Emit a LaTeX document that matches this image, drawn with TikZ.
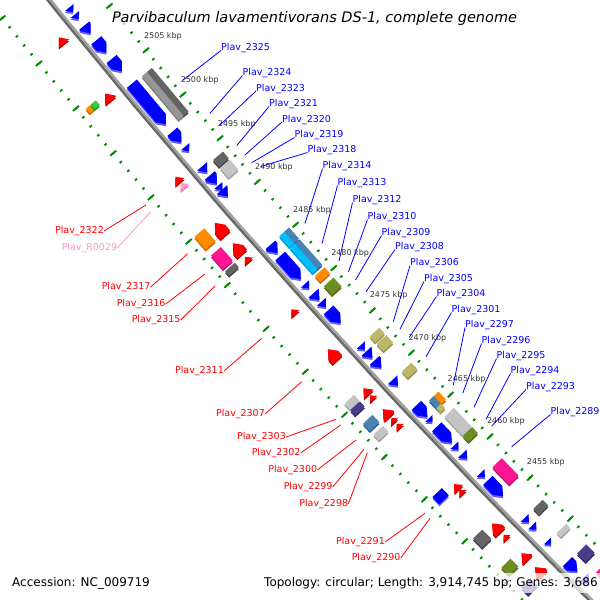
\documentclass[tikz,border=0pt]{standalone}
\usepackage{fontspec}
\setmainfont{DejaVu Sans}

\definecolor{cdsrev}{RGB}{0,0,255}
\definecolor{cdsrevS}{RGB}{95,95,255}
\definecolor{cdsfwd}{RGB}{255,0,0}
\definecolor{cdsfwdS}{RGB}{185,0,0}
\definecolor{trna}{RGB}{255,160,205}
\definecolor{trnaS}{RGB}{230,120,175}
\definecolor{cogdark}{RGB}{100,100,100}
\definecolor{cogdarkS}{RGB}{70,70,70}
\definecolor{cogmid}{RGB}{150,150,150}
\definecolor{cogmidS}{RGB}{120,120,120}
\definecolor{coglight}{RGB}{196,196,196}
\definecolor{coglightS}{RGB}{160,160,160}
\definecolor{cogsteel}{RGB}{70,130,180}
\definecolor{cogsteelS}{RGB}{50,95,135}
\definecolor{cogsky}{RGB}{0,191,255}
\definecolor{cogskyS}{RGB}{0,150,210}
\definecolor{cogorange}{RGB}{255,140,0}
\definecolor{cogorangeS}{RGB}{205,105,0}
\definecolor{cogpink}{RGB}{255,20,147}
\definecolor{cogpinkS}{RGB}{190,15,110}
\definecolor{cogolive}{RGB}{107,142,35}
\definecolor{cogoliveS}{RGB}{80,105,25}
\definecolor{cogkhaki}{RGB}{189,183,107}
\definecolor{cogkhakiS}{RGB}{150,145,80}
\definecolor{cogslate}{RGB}{72,61,139}
\definecolor{cogslateS}{RGB}{50,42,100}
\definecolor{coglime}{RGB}{50,205,50}
\definecolor{coglimeS}{RGB}{30,150,30}
\definecolor{tickgreen}{RGB}{0,140,0}
\definecolor{bbdark}{RGB}{105,105,105}
\definecolor{bblight}{RGB}{160,160,160}
\definecolor{labpink}{RGB}{255,150,200}

\tikzset{
  pics/rev/.style 2 args={code={
    \pgfmathsetmacro{\glen}{#1/2}\pgfmathsetmacro{\ghead}{min(#1,8)}\pgfmathsetmacro{\gwid}{min(6.5,2.5+#1/2)}
    \fill[#2S,shift={(1.5,-1.3)}] (-\glen,-\gwid) -- ({\glen-\ghead},-\gwid) -- (\glen,0) -- ({\glen-\ghead},\gwid) -- (-\glen,\gwid) -- cycle;
    \fill[#2] (-\glen,-\gwid) -- ({\glen-\ghead},-\gwid) -- (\glen,0) -- ({\glen-\ghead},\gwid) -- (-\glen,\gwid) -- cycle;
  }},
  pics/fwd/.style 2 args={code={
    \pgfmathsetmacro{\glen}{#1/2}\pgfmathsetmacro{\ghead}{min(#1,8)}\pgfmathsetmacro{\gwid}{min(6.5,2.5+#1/2)}
    \fill[#2S,shift={(1.5,-1.3)}] (\glen,-\gwid) -- ({\ghead-\glen},-\gwid) -- (-\glen,0) -- ({\ghead-\glen},\gwid) -- (\glen,\gwid) -- cycle;
    \fill[#2] (\glen,-\gwid) -- ({\ghead-\glen},-\gwid) -- (-\glen,0) -- ({\ghead-\glen},\gwid) -- (\glen,\gwid) -- cycle;
  }},
  pics/box/.style 2 args={code={
    \pgfmathsetmacro{\glen}{#1/2}
    \fill[#2S,shift={(1.5,-1.3)}] (-\glen,-6.5) rectangle (\glen,6.5);
    \fill[#2] (-\glen,-6.5) rectangle (\glen,6.5);
  }},
  pics/inbox/.style 2 args={code={
    \pgfmathsetmacro{\glen}{#1/2}
    \fill[#2S,shift={(1.5,-1.3)}] (-\glen,0) rectangle (\glen,6.5);
    \fill[#2] (-\glen,0) rectangle (\glen,6.5);
  }},
  pics/outbox/.style 2 args={code={
    \pgfmathsetmacro{\glen}{#1/2}
    \fill[#2S,shift={(1.5,-1.3)}] (-\glen,-6.5) rectangle (\glen,0);
    \fill[#2] (-\glen,-6.5) rectangle (\glen,0);
  }}
}

% x, y (picture px), track offset from backbone, length, kind, colour
\newcommand{\feat}[6]{%
  \pgfmathsetmacro{\ga}{atan2(-#2-4518.5,#1-5661)}%
  \pgfmathsetmacro{\gr}{7205+#3}%
  \edef\gcall{\noexpand\pic{#5={#4}{#6}};}%
  \begin{scope}[shift={(5661,4518.5)},shift={(\ga:\gr)},rotate=\ga+90,transform shape]
    \gcall
  \end{scope}}

\begin{document}
\begin{tikzpicture}[x=1pt,y=1pt,
  bluelab/.style={anchor=base west,inner sep=0pt,text=blue,font=\fontsize{9.5}{11}\selectfont},
  redlab/.style={anchor=base east,inner sep=0pt,text=red,font=\fontsize{9.5}{11}\selectfont},
  blueline/.style={blue,line width=0.8pt},
  redline/.style={red,line width=0.8pt},
  kbp/.style={text=black!80,inner sep=0pt,font=\fontsize{8}{9.6}\selectfont},
  tickdot/.style={tickgreen,line width=1.9pt},
  caption/.style={fill=white,fill opacity=0.72,text opacity=1,inner sep=4pt,font=\fontsize{12}{14}\selectfont}]
\useasboundingbox (0,0) rectangle (600,-600);
\begin{scope}
\clip (0,0) rectangle (600,-600);

% ruler ticks either side of the backbone, backbone, kbp marks
\begin{scope}[shift={(5661,4518.5)}]
  \foreach \k in {2445,...,2520}{
    \pgfmathsetmacro{\ta}{-138.0613-(\k-2480)*0.09196}
    \draw[tickdot] (\ta:7160.6) -- (\ta:7163.4);
    \draw[tickdot] (\ta:7251.6) -- (\ta:7254.4);
  }
  \foreach \k in {2445,2450,...,2520}{
    \pgfmathsetmacro{\ta}{-138.0613-(\k-2480)*0.09196}
    \draw[tickdot] (\ta:7158) -- (\ta:7166);
    \draw[tickdot] (\ta:7249) -- (\ta:7257);
  }
  \draw[line width=2.6pt,bbdark] plot[domain=-142:-134.5,samples=40] (\x:7206.3);
  \draw[line width=2.2pt,bblight] plot[domain=-142:-134.5,samples=40] (\x:7203.8);
  \foreach \k in {2455,2460,...,2505}{
    \pgfmathsetmacro{\ta}{-138.0613-(\k-2480)*0.09196}
    \node[kbp] (k\k) at (\ta:7140) {\k\ kbp};
  }
\end{scope}

% reverse strand CDS
\foreach \fx/\fy/\fl in {71/10/6,79/15/6,88/29/10,102/46/16,117/65/16,149/104/53,177/137/14,187/149/6,
  204/170/8,213/180/11,220/188/6,225/193/9,273/250/11,290/268/31,306/287/6,316/297/9,323/305/7,334/317/18,
  362/348/6,369/355/9,377/365/10,395/383/8,422/411/16,432/419/5,445/434/22,457/447/6,465/456/7,
  484/474/6,499/485/22,527/520/6,536/526/6,551/541/5,575/564/14,597/570/8}
  \feat{\fx}{\fy}{-11}{\fl}{rev}{cdsrev};

% reverse strand COG classes
\foreach \fx/\fy/\fl/\fk/\fc in {164.5/94.5/57/inbox/cogdark,164.5/94.5/57/outbox/cogmid,
  220/160/9/box/cogdark,228/170/13/box/coglight,
  288.3/238.1/15/inbox/cogsteel,288.3/238.1/15/outbox/cogsky,305.4/256.9/34/inbox/cogsteel,305.4/256.9/34/outbox/cogsky,
  321/276/8/box/cogorange,332/287/12/box/cogolive,375/337/8/box/cogkhaki,384/344/10/box/cogkhaki,408/372/9/box/cogkhaki,
  436.5/401/11/inbox/cogorange,436.5/401/11/outbox/cogsteel,442/407/6/outbox/cogkhaki,
  457/423/26/box/coglight,470/435/8/box/cogolive,506/471/24/box/cogpink,540/508/8/box/cogdark,
  563/531/6/box/coglight,587/552/12/box/cogslate,598/575/6/box/cogpink}
  \feat{\fx}{\fy}{-30}{\fl}{\fk}{\fc};

% forward strand CDS and RNA
\foreach \fx/\fy/\fl/\fc in {62/40/8/cdsfwd,108/97/9/cdsfwd,177/180/7/cdsfwd,182/186/6/trna,
  220/229/16/cdsfwd,237/249/14/cdsfwd,246/260/6/cdsfwd,293/312/6/cdsfwd,332/355/14/cdsfwd,
  365/392/8/cdsfwd,372/397/5/cdsfwd,386/413/10/cdsfwd,393/420/5/cdsfwd,399/425/5/cdsfwd,
  456/487/7/cdsfwd,462/491/5/cdsfwd,497/527/12/cdsfwd,505/537/5/cdsfwd,525/556/9/cdsfwd,541/569/11/cdsfwd}
  \feat{\fx}{\fy}{16}{\fl}{fwd}{\fc};

% forward strand COG classes
\foreach \fx/\fy/\fl/\fk/\fc in {93/106.7/6/outbox/cogorange,93/106.7/6/inbox/coglime,
  205/239/17/box/cogorange,221/259/18/box/cogpink,231/270/6/box/cogdark,
  352/402/8/box/coglight,357/409/7/box/cogslate,370/424/10/box/cogsteel,380/434/8/box/coglight,
  442/495/10/box/cdsrev,482/539/13/box/cogdark,512/565/11/box/cogolive,530/586/10/box/cogslate}
  \feat{\fx}{\fy}{34}{\fl}{\fk}{\fc};

% gene labels
\foreach \n/\x/\y/\ex/\ey in {2325/221/47/182.7/80.3,2324/242.5/72/210/113.3,2323/256/87.5/220/125,
  2321/269/103/236.7/145.7,2320/282/118.5/245/155,2319/294.5/134/251.7/162.7,2318/307.5/149/260.7/166.5,
  2314/322.5/165/305/223.5,2313/337.5/182/322/243.5,2312/352.5/199/339/261,2310/367.5/216/348.5/271.7,
  2309/381.5/232/355.5/280,2308/395/246/366/291.7,2306/410/262/393.3/321.7,2305/424/278/400/329.3,
  2304/436.5/293/409.3/337.3,2301/451.5/309/426/356.7,2297/465/324/453.3/385,2296/481.5/340/462.7/393.3,
  2295/496.5/355/474/407.3,2294/510.5/370/486/419.3,2293/526/386/491.7/426,2289/550.5/411/511.7/446.7}{
  \node[bluelab] (l\n) at (\x,-\y-3.5) {Plav\_\n};
  \coordinate (e\n) at (\ex,-\ey);
  \draw[blueline] (l\n.base west) -- (e\n);
}
\foreach \n/\x/\y/\ex/\ey in {2322/104/230/146/205,2317/150.7/286/187.3/254,2316/165.7/303/205/274,
  2315/180.7/319/215/286,2311/224/370/261.7/338.3,2307/265/413/301.7/381.7,2303/286/436/336/419.3,
  2302/300.7/452/340.7/425,2300/317.3/469/356/440,2299/332.7/486/364/449.3,2298/348.3/503/367.3/452.7,
  2291/385/541/425/513.3,2290/400.7/557/430/518.3}{
  \node[redlab] (l\n) at (\x,-\y-3.5) {Plav\_\n};
  \coordinate (e\n) at (\ex,-\ey);
  \draw[redline] (l\n.east) -- (e\n);
}
\node[redlab,text=labpink] (lR0029) at (117.3,-250.5) {Plav\_R0029};
\coordinate (eR0029) at (150.7,-211.7);
\draw[redline,labpink] (lR0029.east) -- (eR0029);

% captions
\node[caption,anchor=base,inner sep=3pt,font=\fontsize{14.5}{17}\selectfont\itshape] (title) at (314.5,-22.7)
  {Parvibaculum lavamentivorans DS-1, complete genome};
\node[caption,anchor=base west] (acc) at (8,-586.5) {Accession: NC\_009719};
\node[caption,anchor=base west] (topo) at (260,-586.5) {Topology: circular; Length: 3,914,745 bp; Genes: 3,686};
\end{scope}
\end{tikzpicture}
\end{document}
